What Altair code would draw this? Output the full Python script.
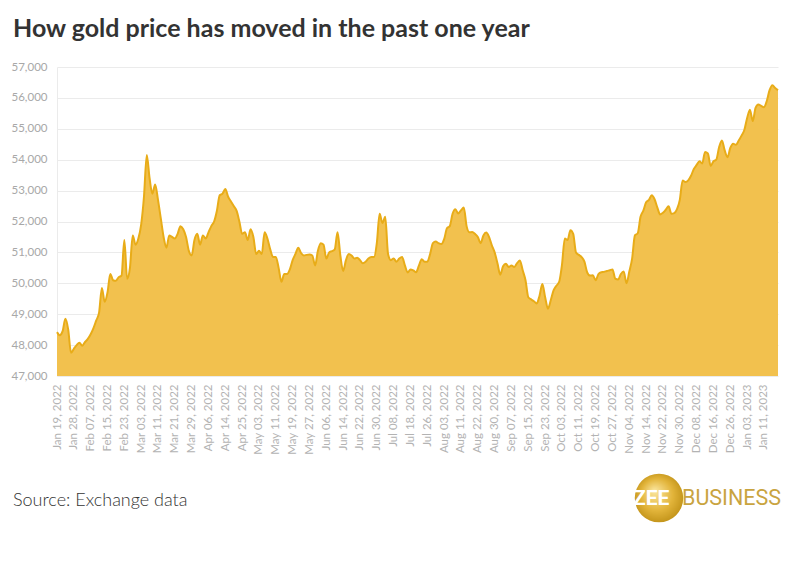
import altair as alt
import pandas as pd

title_text = "How gold price has moved in the past one year"
source_text = "Source: Exchange data"

prices = [
    48420, 48320, 48450, 48850, 48500, 47750, 47880, 48000, 48080, 47980,
    48100, 48200, 48350, 48550, 48800, 49050, 49850, 49400, 49700, 50300,
    50100, 50080, 50200, 50250, 51400, 50150, 50500, 51550, 51250, 51450,
    51900, 52800, 54150, 53400, 52900, 53200, 52700, 52100, 51500, 51150,
    51550, 51500, 51450, 51600, 51850, 51750, 51500, 51050, 50900, 51400,
    51600, 51250, 51550, 51450, 51650, 51850, 52000, 52350, 52850, 52900,
    53050, 52800, 52650, 52500, 52350, 52000, 51600, 51650, 51400, 51750,
    51500, 50950, 51050, 50950, 51650, 51450, 51100, 50850, 50850, 50500,
    50050, 50300, 50300, 50450, 50750, 50950, 51150, 50980, 50900, 50920,
    50930, 50900, 50580, 51050, 51300, 51250, 50800, 51000, 51040, 51100,
    51650, 50900, 50400, 50750, 50950, 50900, 50800, 50830, 50750, 50650,
    50700, 50800, 50850, 50850, 51300, 52250, 51950, 52150, 50950, 50750,
    50800, 50700, 50800, 50850, 50580, 50350, 50450, 50420, 50360, 50570,
    50780, 50700, 50700, 50950, 51300, 51350, 51300, 51270, 51430, 51780,
    51850, 52250, 52400, 52260, 52360, 52450, 51850, 51650, 51660, 51600,
    51500, 51300, 51550, 51640, 51500, 51230, 51000, 50650, 50280, 50550,
    50630, 50530, 50580, 50530, 50650, 50740, 50420, 50100, 49550, 49480,
    49420, 49350, 49600, 49980, 49550, 49180, 49450, 49770, 49920, 50050,
    50600, 51450, 51400, 51720, 51600, 51000, 50920, 50850, 50700, 50350,
    50250, 50260, 50100, 50300, 50360, 50370, 50400, 50420, 50450, 50150,
    50120, 50300, 50380, 50000, 50380, 50800, 51550, 51620, 52150, 52350,
    52620, 52700, 52850, 52720, 52450, 52230, 52280, 52380, 52490, 52250,
    52270, 52400, 52700, 53330, 53280, 53330, 53480, 53700, 53830, 53950,
    53880, 54250, 54200, 53800, 53950, 54000, 54400, 54620, 54300, 54080,
    54380, 54520, 54480, 54620, 54780, 54960, 55350, 55620, 55250, 55680,
    55790, 55740, 55700, 55900, 56250, 56410, 56320, 56250,
]

tick_labels = [
    "Jan 19, 2022", "Jan 28, 2022", "Feb 07, 2022", "Feb 15, 2022", "Feb 23, 2022",
    "Mar 03, 2022", "Mar 11, 2022", "Mar 21, 2022", "Mar 29, 2022", "Apr 06, 2022",
    "Apr 14, 2022", "Apr 25, 2022", "May 03, 2022", "May 11, 2022", "May 19, 2022",
    "May 27, 2022", "Jun 06, 2022", "Jun 14, 2022", "Jun 22, 2022", "Jun 30, 2022",
    "Jul 08, 2022", "Jul 18, 2022", "Jul 26, 2022", "Aug 03, 2022", "Aug 11, 2022",
    "Aug 22, 2022", "Aug 30, 2022", "Sep 07, 2022", "Sep 15, 2022", "Sep 23, 2022",
    "Oct 03, 2022", "Oct 11, 2022", "Oct 19, 2022", "Oct 27, 2022", "Nov 04, 2022",
    "Nov 14, 2022", "Nov 22, 2022", "Nov 30, 2022", "Dec 08, 2022", "Dec 16, 2022",
    "Dec 26, 2022", "Jan 03, 2023", "Jan 11, 2023",
]
tick_step = 6
y_ticks = [47000, 48000, 49000, 50000, 51000, 52000, 53000, 54000, 55000, 56000, 57000]

df = pd.DataFrame({"i": list(range(len(prices))), "price": prices})
js_labels = "[" + ",".join("'" + t + "'" for t in tick_labels) + "]"

area = alt.Chart(df).mark_area(
    color="#F2C14E", opacity=1, interpolate="monotone",
    line={"color": "#E8AC18", "strokeWidth": 2},
).encode(
    x=alt.X("i:Q",
            scale=alt.Scale(domain=[0, len(prices) - 1], nice=False, zero=False),
            axis=alt.Axis(values=[k * tick_step for k in range(len(tick_labels))],
                          labelExpr=js_labels + "[round(datum.value/" + str(tick_step) + ")]",
                          labelAngle=-90, ticks=False, grid=False, domain=False,
                          labelColor="#b3b3b3", labelFontSize=11.5, labelFont="Lato",
                          labelPadding=8, labelOverlap=False, title=None)),
    y=alt.Y("price:Q",
            scale=alt.Scale(domain=[y_ticks[0], y_ticks[-1]], nice=False, zero=False),
            axis=alt.Axis(values=y_ticks, labelExpr="format(datum.value, ',')",
                          ticks=False, grid=True,
                          gridColor="#ebebeb", domain=True, domainColor="#ebebeb",
                          labelColor="#a8a8a8", labelFontSize=11.5, labelFont="Lato",
                          labelPadding=10, title=None)),
    y2=alt.datum(y_ticks[0]),
)

title = alt.Chart(pd.DataFrame({"t": [title_text]})).mark_text(
    align="left", baseline="alphabetic", fontSize=25, fontWeight="bold",
    font="Lato", color="#333333",
).encode(text="t:N", x=alt.value(-44), y=alt.value(-30))

source = alt.Chart(pd.DataFrame({"t": [source_text]})).mark_text(
    align="left", baseline="alphabetic", fontSize=18, font="Lato", fontWeight=300,
    color="#333333",
).encode(text="t:N", x=alt.value(-44), y=alt.value(439))

logo_circle = alt.Chart(pd.DataFrame({"t": ["logo"]})).mark_circle(
    size=2350, opacity=1,
    color=alt.Gradient(gradient="radial",
                       stops=[alt.GradientStop(color="#fbe7a1", offset=0),
                              alt.GradientStop(color="#e2b43a", offset=0.55),
                              alt.GradientStop(color="#b8890f", offset=1)],
                       x1=0.4, y1=0.35, r1=0, x2=0.5, y2=0.5, r2=0.6),
).encode(x=alt.value(602), y=alt.value(431))

logo_zee = alt.Chart(pd.DataFrame({"t": ["ZEE"]})).mark_text(
    align="left", baseline="middle", fontSize=21, fontWeight="bold",
    font="Roboto", color="#ffffff",
).encode(text="t:N", x=alt.value(576), y=alt.value(432))

logo_bus = alt.Chart(pd.DataFrame({"t": ["BUSINESS"]})).mark_text(
    align="left", baseline="middle", fontSize=21.5,
    font="Roboto", color="#c9a43f",
).encode(text="t:N", x=alt.value(625), y=alt.value(432))

chart = alt.layer(area, title, source, logo_circle, logo_zee, logo_bus).properties(
    width=721, height=309, autosize="none",
    padding={"left": 49, "top": 59, "right": 10, "bottom": 190},
    background="#ffffff",
).configure_view(stroke=None)

chart.save("out.html", embed_options={"renderer": "svg", "actions": False})
